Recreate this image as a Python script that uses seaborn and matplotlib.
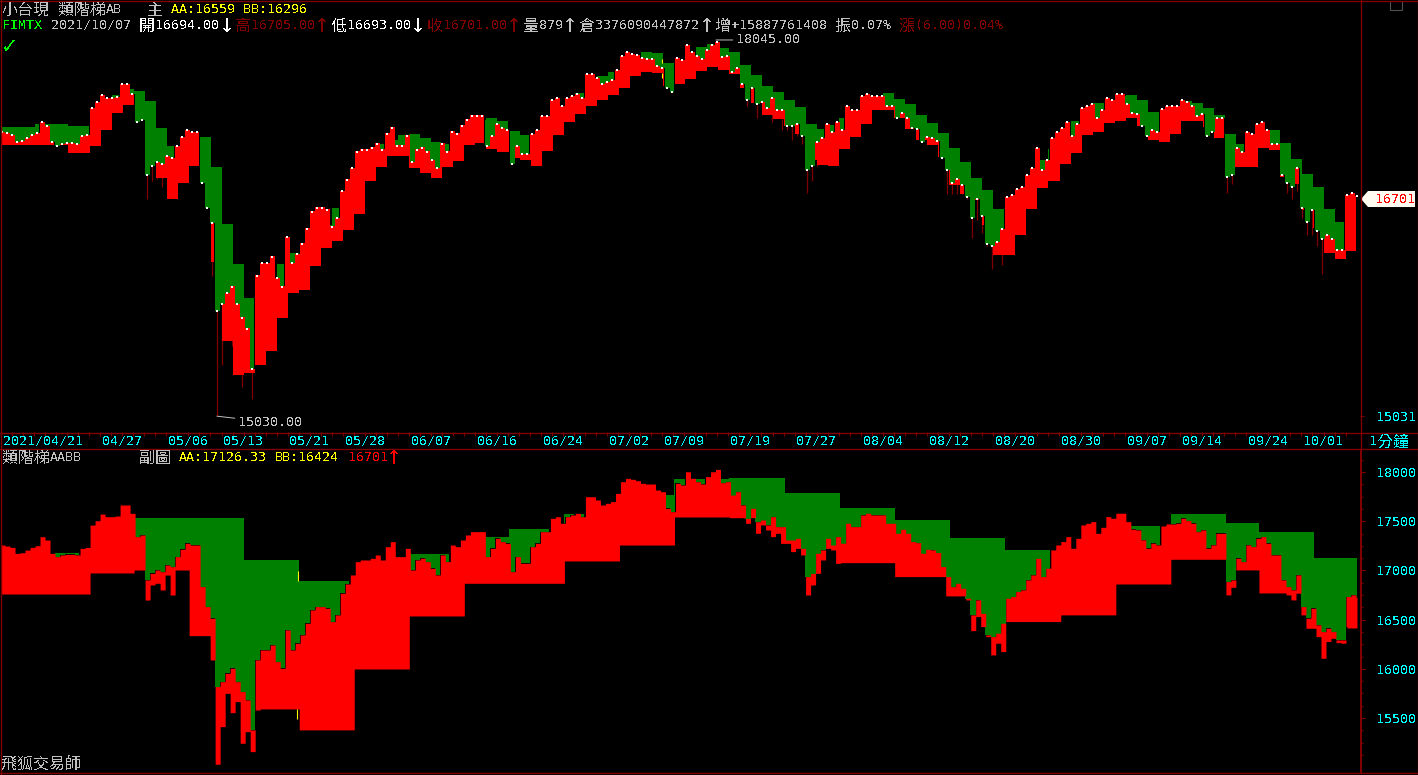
import numpy as np
import matplotlib.pyplot as plt
from matplotlib.lines import Line2D
from matplotlib.patches import Polygon, Rectangle
import seaborn as sns

W, H = 1418, 775

# price per bar
close = [17258,17248,17234,17173,17180,17207,17234,17251,17343,17309,17173,17140,17157,17163,17163,17157,
         17224,17234,17461,17505,17573,17546,17546,17553,17665,17665,17580,17343,17360,16903,16970,17004,
         16987,17055,17038,17140,17214,17275,17258,17258,16835,16632,16513,15819,15869,15954,16005,15869,
         15768,15683,15378,16090,16191,16191,16242,16073,
         16005,16395,16191,16259,16344,16462,16598,16632,16632,16615,16479,16547,16767,16862,16954,17089,
         17106,17106,17123,17157,17106,17241,17292,17140,17140,17224,17004,17106,17123,17089,17021,16954,
         17157,17089,17258,17241,17309,17360,17394,17394,17394,17140,17224,17326,17292,17275,16987,17140,
         17072,17072,17241,17275,17394,17394,17529,17546,
         17479,17546,17563,17580,17546,17749,17749,17716,17665,17682,17699,17783,17902,17936,17926,17912,
         17885,17878,17878,17817,17800,17631,17597,17885,17868,18003,17936,17902,17878,17953,18003,18027,
         17892,17902,17766,17800,17665,17529,17631,17495,17512,17462,17546,17445,17445,17309,17309,17326,
         17224,16937,16970,17174,17208,17326,17258,17343,
         17276,17479,17445,17445,17564,17581,17564,17564,17564,17479,17479,17377,17418,17377,17293,17282,
         17174,17215,17208,17181,17039,16937,16835,16869,16818,16717,16548,16700,16564,16344,16327,16361,
         16463,16717,16734,16785,16802,16903,16954,17123,16937,17022,17208,17259,17293,17343,17225,17326,
         17462,17479,17496,17377,17438,17547,17530,17581,
         17581,17496,17418,17411,17310,17225,17276,17259,17452,17472,17472,17479,17530,17506,17479,17394,
         17411,17225,17259,17377,17377,16886,16903,17123,17089,17259,17242,17326,17343,17276,17157,17157,
         16903,16835,16802,16954,16632,16514,16615,16446,16378,16412,16378,16293,16293,16734,16751,16727]

# bars that dip well under the close
low_bars = list(range(29, 36)) + list(range(42, 52)) + list(range(149, 168)) + list(range(189, 202)) \
    + [245, 246, 247] + list(range(257, 270))
low_vals = [16699,16852,16869,16801,16953,16750,17004,
            16090,15030,15412,15751,15554,15666,15243,15361,15158,15581,
            17479,17563,17377,17462,17411,17343,17377,17275,17275,17191,17224,17157,16750,16852,16970,17106,17224,17208,17072,
            16741,16741,16741,16741,16700,16388,16531,16429,16327,16141,16260,16175,16480,
            16751,16829,17005,
            16751,16700,16768,16548,16412,16412,16327,16107,16277,16310,16266,16260,16429]

# main chart ladder, one value per box
main_aa = [17300,17300,17300,17325,17325,17325,17308,17308,17316,17459,17570,17620,17603,17518,17291,17140,
           17107,17190,17216,16967,16504,16187,15915,15976,16062,16187,16273,16305,16376,16496,16633,16697,
           16779,16942,17157,17190,17232,17241,17207,17174,17157,17232,17316,17358,17375,17350,17266,17232,
           17190,17316,17400,17510,17586,17612,17732,17766,17783,17870,17940,17932,17844,17827,17914,17984,
           18010,17975,17940,17827,17740,17646,17595,17527,17468,17325,17283,17316,17375,17400,17485,17527,
           17586,17536,17493,17400,17333,17249,17124,17008,16877,16779,16625,16577,16697,16836,17024,17115,
           17149,17350,17400,17501,17527,17561,17570,17527,17425,17400,17442,17518,17501,17459,17400,17241,
           17157,17190,17274,17274,17165,17033,16910,16803,16625,16520,16456]
main_bb = [17149,17149,17149,17149,17149,17149,17082,17082,17140,17274,17417,17485,17409,17140,16877,16705,
           16836,16975,16860,16202,15595,15334,15356,15414,15519,15769,15961,15984,16171,16313,16368,16456,
           16585,16852,16967,17058,17058,16959,16918,16877,16967,17016,17149,17165,17115,17090,17041,17024,
           16975,17099,17232,17341,17409,17476,17527,17570,17629,17732,17766,17758,17646,17663,17706,17775,
           17810,17783,17749,17629,17501,17400,17367,17308,17241,17024,16983,16975,17115,17216,17325,17442,
           17442,17375,17283,17190,17149,17049,16820,16746,16697,16496,16257,16257,16416,16625,16795,16852,
           16991,17082,17232,17258,17333,17350,17375,17308,17190,17174,17241,17350,17350,17300,17207,16967,
           16967,16967,17124,17107,16885,16828,16617,16472,16273,16226,16289]

# sub chart ladder, starting box of each level
sub_aa_start = [0,12,22,27,32,37,42,46,51,56,61,66,71,76,81,86,91,96,101,106,111,114,119]
sub_aa = [17173,17532,17106,16893,16900,17167,17340,17421,17573,17766,17929,17939,17777,17625,17503,17320,
          17198,17190,17452,17574,17482,17391,17127]
sub_bb_start = [0,8,12,17,19,23,27,32,37,42,51,56,61,66,71,76,81,86,91,96,101,106,111,114,118,122]
sub_bb = [16760,16974,17004,16337,16337,15592,15379,15998,16537,16869,17096,17258,17543,17536,17275,17079,
          16937,16741,16480,16548,16862,17113,17005,16771,16770,16415]

# small yellow marks where the ladder flips
main_flip_bar = [132, 132]
main_flip_lo = [17844, 17715]
main_flip_hi = [17879, 17758]
sub_flip_bar = [59.2, 59]
sub_flip_lo = [16892, 15490]
sub_flip_hi = [16994, 15592]

date_boxes = [0,9,15,20,26,31,37,43,49,55,60,66,72,78,84,90,96,102,107,113,118]
date_labels = ['2021/04/21','04/27','05/06','05/13','05/21','05/28','06/07','06/16','06/24','07/02','07/09',
               '07/19','07/27','08/04','08/12','08/20','08/30','09/07','09/14','09/24','10/01']
sub_ticks = [15500,16000,16500,17000,17500,18000]

GRAY, YELLOW, CYAN, DARK = '#C0C0C0', '#FFFF00', '#00FFFF', '#800000'
RED, GREEN, LIME = '#FF0000', '#008000', '#00FF00'

sns.set_theme(style='dark', rc={'figure.facecolor': 'black', 'axes.facecolor': 'black', 'axes.grid': False})
plt.rcParams['font.family'] = ['DejaVu Sans Mono']
plt.rcParams['text.antialiased'] = False


def frac(x0, y0, x1, y1):
    return [x0 / W, 1 - y1 / H, (x1 - x0) / W, (y1 - y0) / H]


def put(x, y, s, color):
    # ascii cell is 8px, cjk cell 16px, as in the terminal
    run, wide = '', False
    for c in s + '\0':
        w = ord(c) >= 0x2E80
        if run and (w != wide or c == '\0'):
            if wide:
                fig.text(x / W, 1 - (y + 1) / H, run, color=color, family='Noto Sans CJK TC', size=11.5, va='center')
                x += 16 * len(run)
            else:
                fig.text(x / W, 1 - (y + 0.5) / H, run, color=color, size=9.6, va='center')
                x += 8 * len(run)
            run = ''
        run += c
        wide = w


def arrow(x, y, s, color):
    fig.text(x / W, 1 - (y + 1) / H, s, color=color, family='Noto Sans CJK TC', size=11.5, va='center', ha='center')


def ladder(ax, xs, aa, bb, top):
    ax.fill_between(xs, aa, top, where=aa > top, color=GREEN, lw=0, step='post', antialiased=False, zorder=2)
    ax.fill_between(xs, bb, top, where=top > bb, color=RED, lw=0, step='post', antialiased=False, zorder=3)


close = np.array(close, dtype=float)
low = close.copy()
low[low_bars] = low_vals
bars = np.arange(len(close))

box_len = 2.204
box_x0 = -0.18
xlim = (-0.2, 271.6)
xs = np.arange(xlim[0], box_x0 + box_len * 123, 0.2)
xs_bar = np.clip(np.rint(xs), 0, len(close) - 1).astype(int)
xs_box = np.clip(np.floor((xs - box_x0) / box_len), 0, 122).astype(int)
close_s, low_s = close[xs_bar], low[xs_bar]

fig = plt.figure(figsize=(W / 100, H / 100), dpi=100)
ax_top = fig.add_axes(frac(1, 1, 1360, 432))
ax_date = fig.add_axes(frac(1, 432, 1360, 449))
ax_bot = fig.add_axes(frac(1, 450, 1361, 772))

# main chart, log price scale
ladder(ax_top, xs, np.array(main_aa, dtype=float)[xs_box], np.array(main_bb, dtype=float)[xs_box], close_s)
ax_top.vlines(low_bars, low[low_bars], close[low_bars], color=DARK, lw=0.9, zorder=1)
ax_top.vlines(main_flip_bar, main_flip_lo, main_flip_hi, color=YELLOW, lw=0.8, zorder=5)
sns.scatterplot(x=bars, y=close, marker='s', s=1.8, color='white', linewidth=0, ax=ax_top, zorder=4, legend=False)
ax_top.set_yscale('log')
ax_top.set_ylim(14915, 18390)
ax_top.set_xlim(*xlim)
ax_top.set_xticks([])
ax_top.yaxis.tick_right()
ax_top.minorticks_off()
ax_top.set_yticks([15031], ['15031'], minor=False)
ax_top.tick_params(axis='y', colors=CYAN, length=3, width=0.7, color=DARK, pad=8.5, labelsize=9.6)
ax_top.annotate('18045.00', xy=(142.8, 18045), xytext=(20, 0), textcoords='offset pixels', color=GRAY, size=9.6,
                va='center', arrowprops=dict(arrowstyle='-', color=GRAY, lw=0.7, shrinkA=0, shrinkB=0), zorder=5)
ax_top.annotate('15030.00', xy=(43, 15030), xytext=(21, -6), textcoords='offset pixels', color=GRAY, size=9.6,
                va='center', arrowprops=dict(arrowstyle='-', color=GRAY, lw=0.7, shrinkA=0, shrinkB=0), zorder=5)

# date strip
ax_date.set_xlim(*xlim)
ax_date.set_ylim(0, 1)
ax_date.set_yticks([])
ax_date.xaxis.tick_top()
ax_date.set_xticks(box_x0 + box_len * np.arange(123), [''] * 123)
ax_date.tick_params(axis='x', direction='in', length=2.9, width=0.8, color=DARK, pad=0)

# sub chart, linear price scale
sub_aa_s = np.repeat(sub_aa, np.diff(sub_aa_start + [123]))[xs_box]
sub_bb_s = np.repeat(sub_bb, np.diff(sub_bb_start + [123]))[xs_box]
ladder(ax_bot, xs, sub_aa_s, np.minimum(sub_bb_s, low_s), close_s)
ax_bot.vlines(sub_flip_bar, sub_flip_lo, sub_flip_hi, color=YELLOW, lw=0.8, zorder=5)
ax_bot.set_ylim(14951, 18224)
ax_bot.set_xlim(*xlim)
ax_bot.set_xticks([])
ax_bot.yaxis.tick_right()
ax_bot.set_yticks(sub_ticks, [str(t) for t in sub_ticks])
ax_bot.set_yticks(np.arange(15125, 18224, 125), minor=True)
ax_bot.tick_params(axis='y', which='major', colors=CYAN, color=DARK, length=3, width=0.8, pad=8, labelsize=9.6)
ax_bot.tick_params(axis='y', which='minor', color=DARK, length=1.5, width=0.8)

for ax in (ax_top, ax_date, ax_bot):
    sns.despine(ax=ax, left=True, bottom=True, top=True, right=True)
ax_bot.spines['right'].set_visible(True)
ax_bot.spines['right'].set_color(DARK)
ax_bot.spines['right'].set_linewidth(1.5)

# window frame
for x0, y0, x1, y1 in [(0, 0.5, W, 0.5), (0.5, 0, 0.5, H), (W - 0.5, 0, W - 0.5, H), (0, 432.5, W, 432.5),
                       (0, 449.5, W, 449.5), (0, 773, W, 773), (1360.5, 0, 1360.5, 449)]:
    fig.add_artist(Line2D([x0 / W, x1 / W], [1 - y0 / H, 1 - y1 / H], color=DARK, lw=1))

# header lines
put(2, 9, '小台現 類階梯AB', GRAY)
put(147, 9, '主', GRAY)
put(171, 9, 'AA:16559 BB:16296', YELLOW)
put(2, 25, 'FIMTX', LIME)
put(51, 25, '2021/10/07', GRAY)
put(139, 25, '開16694.00', 'white')
arrow(226.5, 25, '↓', 'white')
put(235, 25, '高16705.00', DARK)
arrow(322, 25, '↑', DARK)
put(331, 25, '低16693.00', 'white')
arrow(418, 25, '↓', 'white')
put(427, 25, '收16701.00', DARK)
arrow(514, 25, '↑', DARK)
put(523, 25, '量879', GRAY)
arrow(570, 25, '↑', GRAY)
put(579, 25, '倉3376090447872', GRAY)
arrow(707, 25, '↑', GRAY)
put(715, 25, '增+15887761408', GRAY)
put(835, 25, '振0.07%', GRAY)
put(899, 25, '漲(6.00)0.04%', DARK)
fig.text(1 / W, 1 - 47 / H, '✓', color=LIME, family='DejaVu Sans', size=15, weight='bold', va='center')

for k, lab in zip(date_boxes, date_labels):
    put(1.1 + 11.02 * k + 2, 441, lab, CYAN)
put(1369, 441, '1分鐘', CYAN)

put(2, 457, '類階梯AABB', GRAY)
put(139, 457, '副圖', GRAY)
put(179, 457, 'AA:17126.33', YELLOW)
put(275, 457, 'BB:16424', YELLOW)
put(348, 457, '16701', RED)
arrow(394, 457, '↑', RED)
put(2, 764, '飛狐交易師', GRAY)

# last price tag
tag = [(1361, 199), (1368, 191), (1415, 191), (1415, 207), (1368, 207)]
fig.add_artist(Polygon([(x / W, 1 - y / H) for x, y in tag], closed=True, transform=fig.transFigure,
                       facecolor='#FFFBF0', edgecolor='none'))
put(1375, 199, '16701', RED)

# window button
fig.add_artist(Rectangle((1390 / W, 1 - 10 / H), 12 / W, 9 / H, transform=fig.transFigure, fill=False,
                         edgecolor='#505050', lw=0.8))

fig.savefig('out.png', dpi=100, facecolor='black')
